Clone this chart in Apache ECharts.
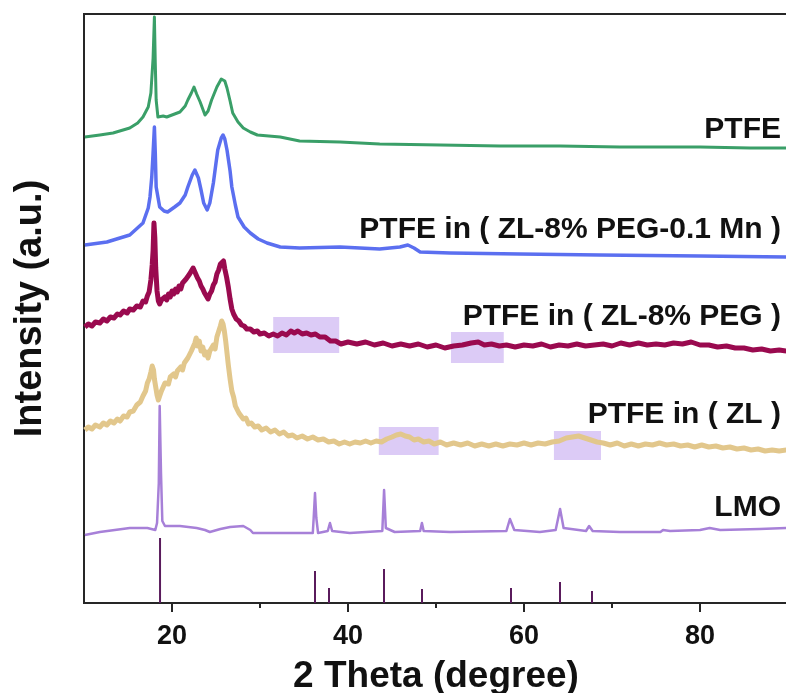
<!DOCTYPE html>
<html lang="en">

<head>
  <meta charset="UTF-8">
  <title>XRD PTFE</title>
  <script src="https://cdn.jsdelivr.net/npm/echarts@6/dist/echarts.min.js"></script>
  <style>
    html,
    body {
      height: 100%;
      margin: 0;
      padding: 0;
      background-color: #fff;
    }

    #chart {
      width: 786px;
      height: 693px;
    }
  </style>
</head>

<body>
  <div id="chart"></div>
  <script>
    // 2θ (degree), stacked intensity (a.u., offsets already included)
    const ptfe = [[10.1, 466], [11.8, 468], [13.3, 470], [15.2, 475], [16.1, 480], [16.7, 486], [17.3, 496], [17.6, 510], [17.85, 545], [18.0, 586], [18.1, 540], [18.2, 503], [18.4, 486], [19.0, 487], [19.4, 486], [20.3, 489], [20.9, 491], [21.5, 497], [21.8, 503], [22.2, 510], [22.5, 516], [22.8, 509], [23.2, 501], [23.75, 488], [24.1, 492], [24.5, 503], [25.1, 516], [25.6, 524], [25.8, 526], [26.0, 522], [26.25, 515], [26.6, 502], [26.9, 490], [27.5, 481], [28.1, 475], [28.9, 471], [29.7, 468], [32.3, 466], [34.5, 462], [39.1, 461], [43.6, 459], [50.5, 458], [57.3, 457], [64.1, 457], [70.9, 456], [80, 456], [85.7, 455], [89.8, 455]];
    const ptfeMn = [[10.1, 358], [12.6, 361], [15.2, 368], [16.7, 380], [17.3, 395], [17.5, 406], [17.7, 426], [17.85, 450], [18.0, 476], [18.1, 450], [18.2, 416], [18.6, 396], [19.1, 392], [19.5, 391], [20.3, 396], [20.9, 400], [21.5, 408], [21.8, 416], [22.3, 428], [22.6, 433], [23.0, 425], [23.3, 413], [23.6, 400], [24.0, 393], [24.3, 400], [24.7, 420], [25.0, 440], [25.2, 453], [25.6, 465], [25.8, 468], [26.0, 464], [26.25, 453], [26.6, 432], [26.8, 416], [27.2, 398], [27.5, 386], [28.2, 376], [28.9, 370], [29.8, 364], [30.8, 360], [32.3, 356], [34.5, 355], [39.1, 356], [43.6, 354], [45.9, 356], [46.8, 358], [47.5, 355], [48.2, 351], [51.6, 350], [59.5, 349], [68.6, 348], [80, 347], [89.8, 346]];
    const ptfePeg = [[10.1, 276], [10.5, 279], [10.9, 277], [11.3, 281], [11.8, 280], [12.2, 284], [12.6, 282], [13.0, 286], [13.4, 285], [13.8, 289], [14.1, 288], [14.5, 292], [14.9, 290], [15.2, 294], [15.6, 293], [16.0, 297], [16.4, 296], [16.7, 302], [17.0, 301], [17.2, 307], [17.4, 311], [17.6, 323], [17.75, 338], [17.85, 352], [17.95, 380], [18.05, 365], [18.15, 335], [18.3, 312], [18.45, 302], [18.6, 299], [18.8, 303], [19.0, 301], [19.2, 306], [19.4, 303], [19.6, 309], [19.8, 306], [20.0, 312], [20.2, 309], [20.4, 314], [20.6, 311], [20.8, 317], [21.0, 314], [21.2, 320], [21.4, 318], [21.6, 324], [21.8, 322], [22.0, 329], [22.2, 327], [22.4, 335], [22.55, 332], [22.7, 331], [22.9, 325], [23.1, 322], [23.3, 317], [23.5, 314], [23.7, 310], [23.9, 307], [24.1, 304], [24.3, 309], [24.5, 312], [24.7, 318], [24.9, 321], [25.1, 329], [25.3, 333], [25.5, 339], [25.7, 341], [25.85, 342], [26.0, 334], [26.2, 326], [26.4, 316], [26.6, 304], [26.8, 294], [27.0, 289], [27.3, 284], [27.6, 282], [27.9, 278], [28.2, 277], [28.5, 274], [28.9, 274], [29.3, 271], [29.7, 272], [30.0, 269], [30.5, 270], [31.0, 267], [31.5, 269], [32.0, 267], [32.5, 270], [33.0, 268], [33.5, 272], [33.9, 270], [34.3, 272], [34.8, 269], [35.3, 270], [35.8, 268], [36.3, 269], [36.8, 266], [37.4, 266], [38.0, 262], [38.6, 262], [39.2, 259], [40.0, 261], [41.0, 259], [42.0, 261], [43.0, 258], [44.0, 260], [45.0, 257], [46.0, 259], [47.0, 257], [48.0, 259], [49.0, 256], [50.0, 258], [51.0, 255], [52.0, 257], [53.0, 258], [54.0, 260], [54.8, 261], [55.5, 258], [56.3, 259], [57.2, 257], [58.0, 258], [59.0, 256], [60.0, 258], [61.0, 257], [62.0, 259], [63.0, 256], [64.0, 258], [65.0, 257], [66.0, 259], [67.0, 257], [68.0, 258], [69.0, 259], [70.0, 257], [71.0, 260], [72.0, 258], [73.0, 260], [74.0, 258], [75.0, 259], [76.0, 258], [77.0, 260], [78.0, 259], [79.0, 261], [80.0, 258], [81.0, 258], [82.0, 256], [83.0, 257], [84.0, 255], [85.0, 255], [86.0, 253], [87.0, 254], [88.0, 252], [89.0, 253], [89.8, 252]];
    const ptfeZl = [[10.1, 173], [10.5, 176], [10.9, 174], [11.3, 178], [11.8, 176], [12.2, 180], [12.6, 178], [13.0, 182], [13.4, 180], [13.8, 184], [14.1, 182], [14.5, 187], [14.9, 186], [15.2, 191], [15.6, 192], [16.0, 198], [16.4, 201], [16.7, 207], [17.0, 212], [17.2, 220], [17.4, 224], [17.6, 231], [17.75, 237], [17.9, 233], [18.0, 224], [18.15, 222], [18.3, 208], [18.45, 203], [18.6, 207], [18.8, 212], [19.0, 216], [19.2, 220], [19.4, 222], [19.6, 219], [19.8, 226], [20.0, 224], [20.2, 229], [20.4, 226], [20.6, 232], [20.8, 230], [21.0, 236], [21.2, 233], [21.4, 240], [21.6, 238], [21.8, 245], [22.0, 243], [22.2, 252], [22.4, 250], [22.6, 260], [22.75, 265], [22.9, 257], [23.1, 262], [23.3, 252], [23.5, 256], [23.7, 248], [23.9, 251], [24.1, 245], [24.3, 252], [24.5, 250], [24.7, 258], [24.9, 254], [25.1, 266], [25.3, 268], [25.5, 277], [25.65, 282], [25.8, 279], [25.95, 272], [26.1, 262], [26.25, 250], [26.4, 238], [26.6, 224], [26.8, 212], [27.0, 206], [27.2, 197], [27.4, 199], [27.6, 190], [27.8, 192], [28.1, 184], [28.4, 185], [28.7, 179], [29.0, 180], [29.4, 176], [29.8, 177], [30.2, 173], [30.7, 175], [31.2, 171], [31.7, 173], [32.2, 169], [32.7, 171], [33.2, 167], [33.7, 168], [34.2, 165], [34.8, 167], [35.4, 164], [36.0, 166], [36.6, 163], [37.2, 164], [37.8, 161], [38.4, 162], [39.0, 159], [39.6, 161], [40.2, 159], [40.8, 161], [41.4, 160], [42.0, 162], [42.6, 160], [43.2, 162], [43.8, 161], [44.4, 164], [45.0, 166], [45.5, 168], [46.0, 169], [46.5, 167], [47.0, 166], [47.5, 163], [48.0, 164], [48.6, 161], [49.2, 162], [49.8, 159], [50.5, 161], [51.2, 158], [52.0, 160], [52.8, 158], [53.6, 160], [54.4, 157], [55.2, 159], [56.0, 157], [56.8, 159], [57.6, 157], [58.4, 159], [59.2, 158], [60.0, 160], [60.8, 158], [61.6, 160], [62.4, 159], [63.2, 161], [64.0, 162], [64.8, 165], [65.5, 166], [66.2, 167], [66.9, 165], [67.6, 163], [68.3, 161], [69.0, 160], [69.8, 158], [70.6, 160], [71.4, 157], [72.2, 159], [73.0, 157], [73.8, 159], [74.6, 158], [75.4, 160], [76.2, 158], [77.0, 159], [77.8, 157], [78.6, 158], [79.4, 156], [80.2, 158], [81.0, 156], [81.8, 157], [82.6, 155], [83.4, 156], [84.2, 154], [85.0, 155], [85.8, 153], [86.6, 154], [87.4, 152], [88.2, 153], [89.0, 152], [89.8, 153]];
    const lmo = [[10.1, 68], [11.8, 71], [13.5, 73], [15.2, 75], [17.2, 75], [18.1, 73], [18.3, 80], [18.5, 120], [18.6, 197], [18.75, 130], [18.9, 82], [19.2, 77], [20.9, 77], [22.8, 75], [23.75, 73], [24.3, 71], [25.5, 74], [26.6, 76], [28.1, 77], [28.9, 73], [29.2, 70], [32.3, 70], [36.0, 70], [36.1, 85], [36.25, 110], [36.4, 85], [36.6, 70], [37.7, 72], [37.95, 80], [38.2, 72], [40.2, 70], [43.9, 72], [44.1, 113], [44.3, 75], [45.3, 71], [48.2, 72], [48.4, 80], [48.6, 72], [51.6, 71], [58.0, 72], [58.4, 84], [58.9, 73], [61.8, 71], [63.6, 73], [64.1, 94], [64.5, 75], [67.05, 72], [67.4, 77], [67.8, 72], [70.9, 71], [75.5, 71], [75.8, 73], [76.6, 72], [80, 73], [81.1, 75], [82.3, 73], [86.8, 74], [89.8, 75]];
    const refPos = [18.64, 36.25, 37.84, 44.09, 48.41, 58.52, 64.09, 67.73];
    const refHeight = [65, 32, 15, 34, 14, 15, 21, 12];

    const labels = ['PTFE', 'PTFE in ( ZL-8% PEG-0.1 Mn )', 'PTFE in ( ZL-8% PEG )', 'PTFE in ( ZL )', 'LMO'];
    const labelY = [130, 230, 317, 415, 508];

    // highlighted humps: [x0, x1, y0, y1]
    const pegBoxes = [[31.5, 39.0, 250, 286], [51.7, 57.7, 240, 271]];
    const zlBoxes = [[43.5, 50.3, 148, 176], [63.4, 68.75, 143, 172]];

    const font = 'Liberation Sans, Arial, sans-serif';
    const chart = echarts.init(document.getElementById('chart'));

    const toArea = b => [{ xAxis: b[0], yAxis: b[2] }, { xAxis: b[1], yAxis: b[3] }];

    const line = (data, color, width) => ({
      type: 'line',
      data: data,
      showSymbol: false,
      z: 3,
      lineStyle: { color: color, width: width, join: 'round' },
      itemStyle: { color: color }
    });

    chart.setOption({
      animation: false,
      grid: {
        left: 84, right: -2, top: 14, bottom: 90,
        containLabel: false, outerBoundsMode: 'none',
        show: true, borderColor: '#262626', borderWidth: 2
      },
      xAxis: [{
        type: 'value',
        min: 10,
        max: 90,
        name: '2 Theta (degree)',
        nameLocation: 'middle',
        nameGap: 55,
        nameTextStyle: { fontFamily: font, fontWeight: 'bold', fontSize: 37, color: '#111' },
        axisLine: { show: true, lineStyle: { color: '#262626', width: 2 } },
        axisTick: { show: true, length: 9, customValues: [20, 40, 60, 80], lineStyle: { color: '#262626', width: 2 } },
        axisLabel: { customValues: [20, 40, 60, 80], margin: 20, fontFamily: font, fontWeight: 'bold', fontSize: 27, color: '#111' },
        splitLine: { show: false }
      }, {
        type: 'value',
        min: 10,
        max: 90,
        position: 'bottom',
        axisLine: { show: false },
        axisTick: { show: true, length: 5, customValues: [30, 50, 70], lineStyle: { color: '#262626', width: 2 } },
        axisLabel: { show: false },
        splitLine: { show: false }
      }],
      yAxis: {
        type: 'value',
        min: 0,
        max: 589,
        name: 'Intensity (a.u.)',
        nameLocation: 'middle',
        nameRotate: 90,
        nameGap: 34,
        nameTextStyle: { fontFamily: font, fontWeight: 'bold', fontSize: 38, color: '#111' },
        axisLine: { show: true, lineStyle: { color: '#262626', width: 2 } },
        axisTick: { show: false },
        axisLabel: { show: false },
        splitLine: { show: false }
      },
      series: [
        {
          type: 'line',
          data: [],
          z: 1,
          markArea: {
            silent: true,
            itemStyle: { color: '#dccbf6' },
            data: pegBoxes.concat(zlBoxes).map(toArea)
          }
        },
        line(ptfe, '#3a9f68', 3),
        line(ptfeMn, '#5b6ff0', 3.5),
        line(ptfePeg, '#9a0a4f', 5),
        line(ptfeZl, '#e2c78c', 5),
        line(lmo, '#a780d8', 2.5),
        {
          type: 'bar',
          data: refPos.map((x, i) => [x, refHeight[i]]),
          barWidth: 2,
          z: 2,
          itemStyle: { color: '#5a1b5c' }
        }
      ],
      graphic: labels.map((t, i) => ({
        type: 'text',
        right: 5,
        top: labelY[i] - 15,
        style: { text: t, fontFamily: font, fontWeight: 'bold', fontSize: 30, fill: '#111' }
      }))
    });
  </script>
</body>

</html>
